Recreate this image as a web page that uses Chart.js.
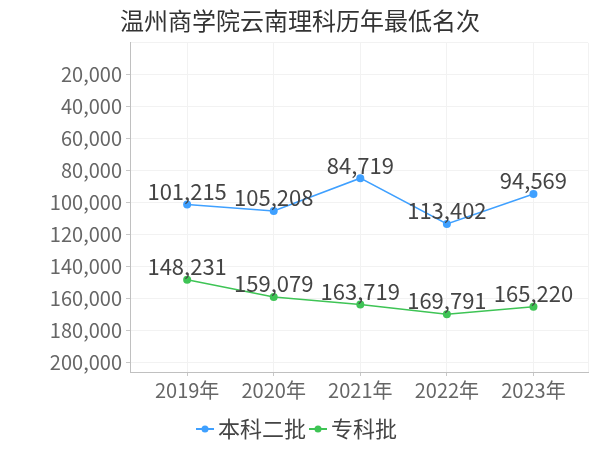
<!DOCTYPE html>
<html>
<head>
<meta charset="utf-8">
<script src="https://cdn.jsdelivr.net/npm/chart.js@4"></script>
<style>
  html, body { margin: 0; padding: 0; background: #fff; }
  #wrap { width: 600px; height: 450px; }
</style>
</head>
<body>
<div id="wrap"><canvas id="c" width="600" height="450"></canvas></div>
<script>
// data
const years = ["2019年", "2020年", "2021年", "2022年", "2023年"];
const benke2 = [101215, 105208, 84719, 113402, 94569];
const zhuanke = [148231, 159079, 163719, 169791, 165220];
const yTicks = [0, 20000, 40000, 60000, 80000, 100000, 120000, 140000, 160000, 180000, 200000];
const seriesNames = ["本科二批", "专科批"];

const BLUE = "#3fa0ff", GREEN = "#3ec455";
const FONT = "'Noto Sans CJK SC', 'Noto Sans', sans-serif";
const fmt = (v) => v.toLocaleString("en-US");

// small line+dot legend marker
function marker(color) {
  const c = document.createElement("canvas");
  c.width = 18; c.height = 10;
  const g = c.getContext("2d");
  g.strokeStyle = color; g.lineWidth = 2;
  g.beginPath(); g.moveTo(0, 5); g.lineTo(18, 5); g.stroke();
  g.fillStyle = color;
  g.beginPath(); g.arc(9, 5, 3.5, 0, Math.PI * 2); g.fill();
  return c;
}

// value labels above each point
const valueLabels = {
  id: "valueLabels",
  afterDatasetsDraw(chart) {
    const ctx = chart.ctx;
    ctx.save();
    ctx.font = "22px " + FONT;
    ctx.fillStyle = "#444";
    ctx.textAlign = "center";
    ctx.textBaseline = "middle";
    chart.data.datasets.forEach((ds, i) => {
      chart.getDatasetMeta(i).data.forEach((pt, j) => {
        ctx.fillText(fmt(ds.data[j].y), pt.x, pt.y - 13);
      });
    });
    ctx.restore();
  }
};

const toPts = (arr) => arr.map((y, i) => ({ x: i, y }));

new Chart(document.getElementById("c"), {
  type: "line",
  data: {
    datasets: [
      { label: seriesNames[0], data: toPts(benke2), borderColor: BLUE, backgroundColor: BLUE,
        borderWidth: 1.5, pointRadius: 4, pointBorderWidth: 0, tension: 0 },
      { label: seriesNames[1], data: toPts(zhuanke), borderColor: GREEN, backgroundColor: GREEN,
        borderWidth: 1.5, pointRadius: 4, pointBorderWidth: 0, tension: 0 },
    ]
  },
  options: {
    responsive: false, animation: false, parsing: false,
    layout: { padding: { left: 12, right: 12, top: 0, bottom: 0 } },
    scales: {
      x: {
        type: "linear", min: -0.66, max: 4.63,
        afterBuildTicks: (s) => { s.ticks = [-0.66, 0, 1, 2, 3, 4, 4.63].map((v) => ({ value: v })); },
        afterFit: (s) => { s.height = 36; },
        ticks: {
          color: "#666", font: { family: FONT, size: 20 }, padding: 2, maxRotation: 0, autoSkip: false,
          callback: (v) => (Number.isInteger(v) ? years[v] : "")
        },
        grid: {
          color: "#f2f2f2", tickLength: 4,
          tickColor: (c) => (Number.isInteger(c.tick.value) ? "#c8c8c8" : "rgba(0,0,0,0)")
        },
        border: { color: "#c0c0c0" }
      },
      y: {
        reverse: true, min: 0, max: 206000,
        afterBuildTicks: (s) => { s.ticks = yTicks.map((v) => ({ value: v })); },
        afterFit: (s) => { s.width = 118; },
        ticks: {
          color: "#666", font: { family: FONT, size: 20 }, padding: 4,
          callback: (v) => (v === 0 ? "" : fmt(v))
        },
        grid: {
          color: "#f2f2f2", tickLength: 4,
          tickColor: (c) => (c.tick.value === 0 ? "rgba(0,0,0,0)" : "#c8c8c8")
        },
        border: { color: "#c0c0c0" }
      }
    },
    plugins: {
      title: {
        display: true, text: "温州商学院云南理科历年最低名次", color: "#333",
        font: { family: FONT, size: 24, weight: "normal" }, padding: { top: 6, bottom: 8 }
      },
      legend: {
        position: "bottom",
        labels: {
          usePointStyle: true, pointStyleWidth: 4, padding: 10, color: "#444",
          font: { family: FONT, size: 22 },
          generateLabels: (chart) => Chart.defaults.plugins.legend.labels.generateLabels(chart)
            .map((l) => Object.assign(l, { pointStyle: marker(chart.data.datasets[l.datasetIndex].borderColor) }))
        }
      },
      tooltip: { enabled: false }
    }
  },
  plugins: [valueLabels]
});
</script>
</body>
</html>
